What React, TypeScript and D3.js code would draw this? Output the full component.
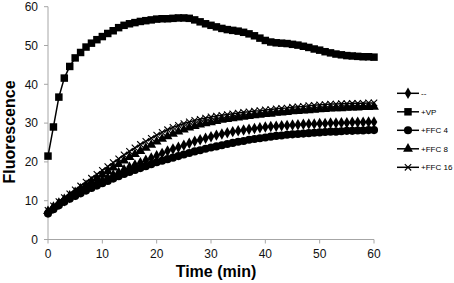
import React from "react";
import * as d3 from "d3";

const times: number[] = d3.range(0, 61);
const xTicks = [0, 10, 20, 30, 40, 50, 60];
const yTicks = [0, 10, 20, 30, 40, 50, 60];

const seriesNames = ["--", "+VP", "+FFC 4", "+FFC 8", "+FFC 16"];

const ctrl = [7, 8.1, 9.1, 10, 10.8, 11.6, 12.4, 13.1, 13.8, 14.5, 15.2, 15.9, 16.6, 17.3, 18, 18.6, 19.2, 19.8, 20.4, 21, 21.6, 22.2, 22.8, 23.3, 23.8, 24.3, 24.8, 25.3, 25.7, 26.1, 26.5, 26.9, 27.2, 27.5, 27.8, 28, 28.2, 28.4, 28.6, 28.8, 29, 29.1, 29.2, 29.3, 29.4, 29.5, 29.6, 29.7, 29.8, 29.8, 29.9, 29.9, 30, 30, 30.1, 30.1, 30.2, 30.2, 30.2, 30.3, 30.3];
const vp = [21.5, 29, 36.7, 41.6, 44.6, 46.8, 48.2, 49.6, 50.6, 51.5, 52.3, 53.1, 53.8, 54.6, 55.2, 55.6, 55.9, 56.2, 56.4, 56.6, 56.8, 56.9, 56.9, 57, 57.1, 57.1, 57, 56.6, 56.1, 55.6, 55.2, 54.8, 54.4, 54.1, 53.9, 53.7, 53.4, 53, 52.5, 51.9, 51.3, 50.9, 50.7, 50.6, 50.5, 50.3, 50.1, 49.8, 49.5, 49.1, 48.8, 48.4, 48.1, 47.8, 47.6, 47.4, 47.3, 47.2, 47.1, 47.1, 47];
const ffc4 = [6.7, 7.8, 8.8, 9.7, 10.5, 11.2, 11.9, 12.6, 13.3, 13.9, 14.5, 15.1, 15.7, 16.3, 16.9, 17.4, 17.9, 18.4, 18.9, 19.4, 19.9, 20.3, 20.7, 21.1, 21.5, 21.9, 22.3, 22.7, 23, 23.4, 23.7, 24, 24.3, 24.6, 24.9, 25.2, 25.4, 25.7, 25.9, 26.1, 26.3, 26.5, 26.7, 26.8, 27, 27.1, 27.2, 27.3, 27.4, 27.5, 27.6, 27.7, 27.8, 27.8, 27.9, 28, 28, 28.1, 28.1, 28.2, 28.2];
const ffc8 = [7.3, 8.4, 9.4, 10.4, 11.3, 12.2, 13.1, 14, 14.9, 15.8, 16.7, 17.6, 18.5, 19.4, 20.3, 21.2, 22, 22.8, 23.6, 24.4, 25.2, 25.9, 26.6, 27.2, 27.8, 28.3, 28.8, 29.2, 29.6, 29.9, 30.2, 30.5, 30.8, 31, 31.2, 31.4, 31.6, 31.8, 32, 32.1, 32.3, 32.4, 32.6, 32.7, 32.8, 33, 33.1, 33.2, 33.3, 33.4, 33.5, 33.6, 33.7, 33.8, 33.8, 33.9, 34, 34, 34.1, 34.1, 34.2];
const ffc16 = [7.5, 8.7, 9.8, 10.8, 11.8, 12.8, 13.8, 14.8, 15.8, 16.8, 17.8, 18.8, 19.8, 20.8, 21.8, 22.7, 23.6, 24.5, 25.3, 26.1, 26.9, 27.6, 28.3, 28.9, 29.4, 29.9, 30.3, 30.7, 31, 31.3, 31.6, 31.8, 32, 32.2, 32.4, 32.6, 32.8, 32.9, 33.1, 33.2, 33.4, 33.5, 33.7, 33.8, 33.9, 34.1, 34.2, 34.3, 34.5, 34.6, 34.7, 34.8, 34.9, 34.9, 35, 35, 35.1, 35.1, 35.1, 35.2, 35.2];

const seriesValues = [ctrl, vp, ffc4, ffc8, ffc16];
const markerKinds = ["diamond", "square", "circle", "triangle", "cross"];

const W = 454;
const H = 283;
const x = d3.scaleLinear().domain([0, 60]).range([48, 374]);
const y = d3.scaleLinear().domain([0, 60]).range([239.5, 6.7]);

const symbolFor: Record<string, d3.SymbolType> = {
  diamond: d3.symbolDiamond,
  square: d3.symbolSquare,
  circle: d3.symbolCircle,
  triangle: d3.symbolTriangle,
};
const sizeFor: Record<string, number> = {
  diamond: 38,
  square: 56,
  circle: 52,
  triangle: 42,
  cross: 0,
};

function Marker({ kind, cx, cy }: { kind: string; cx: number; cy: number }) {
  if (kind === "cross") {
    const r = 3.2;
    return (
      <path
        d={`M${cx - r},${cy - r}L${cx + r},${cy + r}M${cx - r},${cy + r}L${cx + r},${cy - r}`}
        stroke="#000"
        strokeWidth={1.1}
        fill="none"
      />
    );
  }
  const p = d3.symbol().type(symbolFor[kind]).size(sizeFor[kind])()!;
  return <path d={p} transform={`translate(${cx},${cy})`} fill="#000" />;
}

export default function App() {
  const line = d3
    .line<number>()
    .x((_, i) => x(times[i]))
    .y((v) => y(v));
  const font = "Liberation Sans, Arial, sans-serif";
  const drawOrder = [1, 0, 2, 3, 4];
  return (
    <svg
      width={W}
      height={H}
      style={{ position: "absolute", left: 0, top: 0, background: "#fff" }}
      fontFamily={font}
    >
      <rect width={W} height={H} fill="#fff" />
      <line x1={x(0)} x2={x(0)} y1={y(60)} y2={y(0)} stroke="#a6a6a6" strokeWidth={1} />
      <line x1={x(0)} x2={x(60)} y1={y(0)} y2={y(0)} stroke="#a6a6a6" strokeWidth={1} />
      {yTicks.map((t) => (
        <g key={"y" + t}>
          <line x1={x(0) - 4} x2={x(0)} y1={y(t)} y2={y(t)} stroke="#a6a6a6" />
          <text x={38} y={y(t)} dy="0.35em" textAnchor="end" fontSize={12} fill="#111">
            {t}
          </text>
        </g>
      ))}
      {xTicks.map((t) => (
        <g key={"x" + t}>
          <line x1={x(t)} x2={x(t)} y1={y(0)} y2={y(0) + 4} stroke="#a6a6a6" />
          <text x={x(t)} y={257.7} textAnchor="middle" fontSize={12} fill="#111">
            {t}
          </text>
        </g>
      ))}
      <text x={216} y={276.5} textAnchor="middle" fontSize={16} fontWeight="bold">
        Time (min)
      </text>
      <text
        transform={`translate(14.5,132) rotate(-90)`}
        textAnchor="middle"
        fontSize={16}
        fontWeight="bold"
      >
        Fluorescence
      </text>
      {drawOrder.map((si) => (
        <g key={"s" + si}>
          <path d={line(seriesValues[si])!} fill="none" stroke="#000" strokeWidth={1.5} />
          {seriesValues[si].map((v, i) => (
            <Marker key={i} kind={markerKinds[si]} cx={x(times[i])} cy={y(v)} />
          ))}
        </g>
      ))}
      {seriesNames.map((n, i) => {
        const ly = 93.3 + i * 18.5;
        return (
          <g key={"l" + n}>
            <line x1={397} x2={419} y1={ly} y2={ly} stroke="#000" strokeWidth={1.5} />
            <Marker kind={markerKinds[i]} cx={408} cy={ly} />
            <text x={421} y={ly} dy="0.35em" fontSize={8} fill="#000">
              {n}
            </text>
          </g>
        );
      })}
    </svg>
  );
}
